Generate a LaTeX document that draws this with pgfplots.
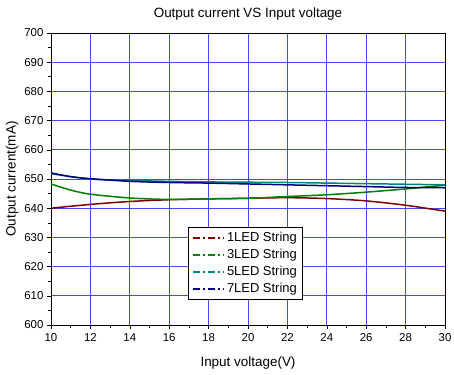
\documentclass[border=0pt]{standalone}
\usepackage{pgfplots}
\pgfplotsset{compat=1.18}
\usepackage{fontspec}
\setmainfont{Liberation Sans}
\definecolor{c1}{RGB}{128,0,0}
\definecolor{c3}{RGB}{0,128,0}
\definecolor{c5}{RGB}{0,128,128}
\definecolor{c7}{RGB}{0,0,128}
\definecolor{gridblue}{RGB}{70,70,255}
\begin{document}
\begin{tikzpicture}
\useasboundingbox (-51bp,-50bp) rectangle (403bp,325bp);
\begin{axis}[
  scale only axis, width=394bp, height=292bp,
  xmin=10, xmax=30, ymin=600, ymax=700,
  xtick={10,12,...,30}, ytick={600,610,...,700},
  minor x tick num=1, minor y tick num=1,
  tick align=outside, xtick pos=left, ytick pos=left,
  major tick length=4bp, minor tick length=2.5bp,
  tick style={black, line width=0.6pt},
  grid=major,
  major grid style={gridblue, line width=0.9pt},
  axis line style={black, line width=0.8pt},
  /pgf/number format/assume math mode=true,
  ticklabel style={font=\fontsize{11.5}{13}\selectfont},
  xticklabel style={yshift=-1bp},
  title={Output current VS Input voltage},
  title style={font=\fontsize{13.5}{15}\selectfont, yshift=3bp},
  xlabel={Input voltage(V)},
  ylabel={Output current(mA)},
  label style={font=\fontsize{13.5}{15}\selectfont},
  xlabel style={yshift=-8bp},
  ylabel style={yshift=-1bp},
  legend style={at={(rel axis cs:0.348,0.336)}, anchor=north west,
    font=\fontsize{13}{15}\selectfont, draw=black, line width=0.7pt,
    row sep=2.2pt, inner xsep=4pt, inner ysep=3pt, fill=white},
  legend cell align=left,
  legend image code/.code={\draw[#1, sharp plot, line width=1.7pt, dash pattern=on 7pt off 3pt on 2pt off 3pt] (0pt,0pt) -- (31pt,0pt);},
  every axis plot/.append style={line width=1.5pt, smooth},
]
\addplot[c1] coordinates {(10,640.0) (12,641.3) (14,642.3) (16,642.9) (18,643.2) (20,643.4) (22,643.6) (24,643.3) (26,642.5) (28,641.0) (30,639.0)};
\addplot[c3] coordinates {(10,648.3) (11,646.2) (12,644.8) (14,643.5) (16,643.0) (18,643.2) (20,643.4) (22,644.0) (24,644.6) (26,645.5) (28,646.6) (30,647.9)};
\addplot[c5] coordinates {(10,651.8) (12,650.0) (14,649.5) (16,649.2) (18,649.0) (20,648.9) (22,648.8) (24,648.6) (26,648.4) (28,648.2) (30,648.0)};
\addplot[c7] coordinates {(10,652.1) (11,650.8) (12,650.1) (14,649.2) (16,648.8) (18,648.6) (20,648.3) (22,648.0) (24,647.7) (26,647.4) (28,647.1) (30,647.0)};
\legend{1LED String,3LED String,5LED String,7LED String}
\end{axis}
\end{tikzpicture}
\end{document}
